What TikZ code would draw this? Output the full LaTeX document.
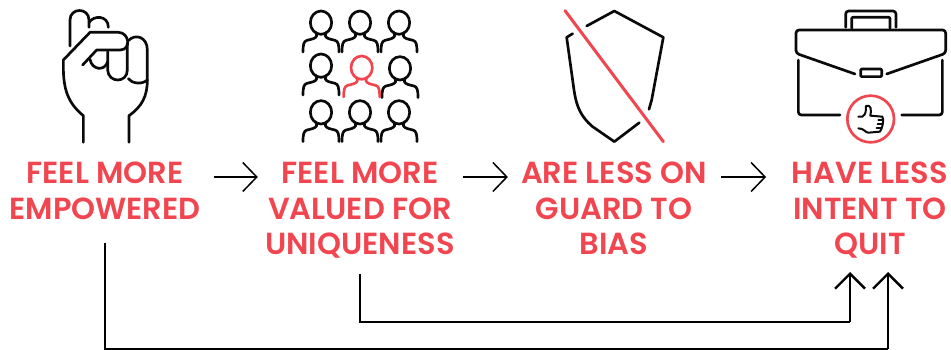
\documentclass[tikz,border=0pt]{standalone}
\usepackage{fontspec}
\setmainfont{Poppins SemiBold}
\usetikzlibrary{arrows.meta, positioning, calc}
\definecolor{brandred}{HTML}{F1464F}
\definecolor{inkblack}{HTML}{0A0A0A}

% one person of the crowd, head centre at (0,0)
\newcommand{\crowdperson}[3]{%
  \begin{scope}[shift={(#1,#2)}]
    \draw[icon, #3] (0,0) ellipse (32 and 35);
    \draw[icon, #3] (-15,29) -- (-13,40) .. controls (-16,48) and (-30,50) .. (-42,53)
      .. controls (-52,56) and (-54,66) .. (-54,88);
    \draw[icon, #3] (15,29) -- (13,40) .. controls (16,48) and (30,50) .. (42,53)
      .. controls (52,56) and (54,66) .. (54,88);
  \end{scope}}

\begin{document}
\begin{tikzpicture}[
  x=1pt, y=-1pt,
  icon/.style={inkblack, line width=8pt/3, line cap=round, line join=round},
  thinicon/.style={inkblack, line width=2pt, line cap=round, line join=round},
  flow/.style={black, line width=1.3pt, -{Straight Barb[length=15pt, width=30pt, line width=2.4pt]}},
  smallflow/.style={black, line width=1.3pt, -{Straight Barb[length=14pt, width=29pt, line width=1.5pt]}},
  plainline/.style={black, line width=1.3pt},
  label/.style={text=brandred, font=\fontsize{30.5}{35.5}\selectfont, align=center, inner sep=0pt, anchor=north},
]
\useasboundingbox (0,0) rectangle (951,350);
\fill[white] (0,0) rectangle (951,350);

% Labels
\node[label] (power)  at (105,162) {FEEL MORE\\EMPOWERED};
\node[label] (valued) at (360,162) {FEEL MORE\\VALUED FOR\\UNIQUENESS};
\node[label] (guard)  at (614,162) {ARE LESS ON\\GUARD TO\\BIAS};
\node[label] (quit)   at (870,162) {HAVE LESS\\INTENT TO\\QUIT};

% Fist (zoomed coordinates)
\begin{scope}[shift={(40,0)}, x=1pt/3, y=-1pt/3]
  \draw[icon] (90,138) -- (90,60) .. controls (90,22) and (147,22) .. (147,60) -- (147,82);
  \draw[icon] (147,68) .. controls (160,45) and (205,45) .. (205,82);
  \draw[icon] (130,427) -- (130,347) .. controls (85,310) and (70,270) .. (70,200) -- (70,180)
    -- (150,97) -- (235,97) .. controls (268,97) and (275,150) .. (240,150) -- (170,150) -- (128,195);
  \draw[icon] (150,178) .. controls (155,210) and (195,215) .. (203,185);
  \draw[icon] (203,155) -- (203,210) .. controls (205,250) and (262,250) .. (262,210) -- (262,130);
  \draw[icon] (265,122) .. controls (285,100) and (322,110) .. (322,150) -- (322,240)
    .. controls (305,255) and (275,250) .. (265,236);
  \draw[icon] (322,240) .. controls (322,290) and (305,320) .. (267,347) -- (267,427);
\end{scope}

% Crowd
\begin{scope}[shift={(290,0)}, x=1pt/3, y=-1pt/3]
  \foreach \cx/\cy in {93/68, 210/68, 327/68, 93/197, 330/205, 93/337, 210/337, 327/337}
    \crowdperson{\cx}{\cy}{};
  \crowdperson{215}{203}{brandred}
\end{scope}

% Shield
\begin{scope}[shift={(550,0)}, x=1pt/3, y=-1pt/3]
  \draw[icon] (110,78) -- (193,33) -- (340,112) -- (305,300) -- (297,328);
  \draw[icon] (268,368) -- (193,425) -- (125,378) .. controls (95,350) and (80,325) .. (72,270)
    -- (50,112) -- (68,101);
  \draw[brandred, line width=1.2pt*2.5, line cap=round] (45,32) -- (340,425);
\end{scope}

% Briefcase
\begin{scope}[shift={(785,0)}, x=1pt/3, y=-1pt/3]
  \draw[icon, rounded corners=3pt] (182,82) -- (182,33) -- (333,33) -- (333,82);
  \draw[icon, rounded corners=1pt] (200,85) -- (200,52) -- (315,52) -- (315,85);
  \draw[icon, rounded corners=3pt] (210,222) -- (33,160) -- (33,90) -- (482,90) -- (482,160) -- (305,222);
  \draw[icon, rounded corners=1pt] (227,207) rectangle (290,230);
  \draw[icon, rounded corners=3pt] (40,180) -- (40,345) -- (165,345);
  \draw[icon, rounded corners=3pt] (350,345) -- (472,345) -- (472,180);
  \draw[brandred, line width=8pt/3] (257,357) circle [radius=70];
  % thumb
  \draw[thinicon] (220,350) -- (232,350) .. controls (245,342) and (242,330) .. (243,318)
    .. controls (258,312) and (260,330) .. (256,347) -- (292,350) .. controls (298,360) and (292,385) .. (285,395)
    -- (250,398) .. controls (240,398) and (238,385) .. (220,385);
  \draw[thinicon] (280,360) -- (293,360);
  \draw[thinicon] (278,372) -- (291,372);
  \draw[thinicon] (275,384) -- (287,384);
\end{scope}

% Connectors
\coordinate (tip quit a) at (850,272);
\coordinate (tip quit b) at (888,272);
\coordinate (turn a) at (850,322);
\coordinate (turn b) at (888,349);

\draw[smallflow, shorten <=13pt] ([yshift=-15pt]power.north east) -- ++(57pt,0);
\draw[smallflow, shorten <=8pt] ([yshift=-15pt]valued.north east) -- ++(53pt,0);
\draw[smallflow, shorten <=14pt] ([yshift=-15pt]guard.north east) -- ++(59pt,0);

\draw[plainline, shorten <=15pt] (valued.south) |- (turn a);
\draw[flow] (turn a) -- (tip quit a);
\draw[plainline, shorten <=23pt] (power.south) |- (turn b);
\draw[flow] (turn b) -- (tip quit b);

\end{tikzpicture}
\end{document}
